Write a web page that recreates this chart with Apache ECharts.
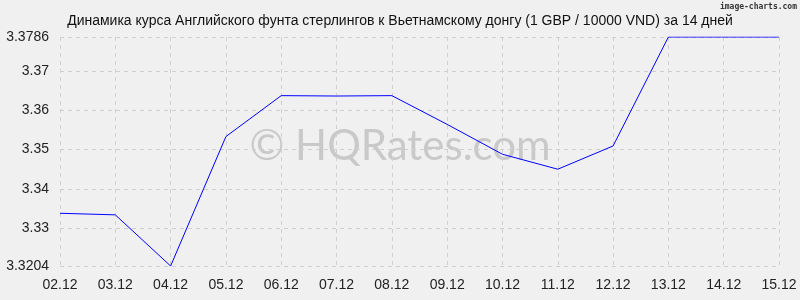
<!DOCTYPE html>
<html><head><meta charset="utf-8">
<script src="https://cdn.jsdelivr.net/npm/echarts@6/dist/echarts.min.js"></script>
<style>html,body{margin:0;padding:0;background:#f0f0f0}#c{width:800px;height:300px}</style>
</head><body><div id="c"></div>
<script>
const titleText = 'Динамика курса Английского фунта стерлингов к Вьетнамскому донгу (1 GBP / 10000 VND) за 14 дней';
const categories = ['02.12','03.12','04.12','05.12','06.12','07.12','08.12','09.12','10.12','11.12','12.12','13.12','14.12','15.12'];
const rates = [3.3338,3.3334,3.3204,3.3533,3.3637,3.3636,3.3637,3.3564,3.3488,3.3450,3.3509,3.3786,3.3786,3.3786];
const yMin = 3.3204, yMax = 3.3786;

const chart = echarts.init(document.getElementById('c'), null, {renderer:'canvas'});
const gridLine = {show:true, lineStyle:{color:'#cfcfcf', type:[4,4], width:1}};
chart.setOption({
  backgroundColor:'#f0f0f0',
  animation:false,
  title:{text:titleText, left:'center', top:9, textStyle:{fontFamily:'Liberation Sans', fontSize:14, fontWeight:'normal', color:'#111'}},
  graphic:[
    {type:'text', right:3, top:3, style:{text:'image-charts.com', fontFamily:'DejaVu Sans Mono', fontSize:8, fontWeight:'bold', fill:'#333'}},
    {type:'text', left:'center', top:125, z:0, style:{text:'© HQRates.com', fontFamily:'Lato', fontSize:42, fill:'#c9c9c9'}}
  ],
  grid:{left:60, right:21, top:37, bottom:34},
  xAxis:{type:'category', data:categories, boundaryGap:false,
    axisLine:{show:false}, axisTick:{show:false},
    splitLine:gridLine,
    axisLabel:{fontFamily:'Liberation Sans', fontSize:14, color:'#222', margin:12, interval:0}},
  yAxis:{type:'value', min:yMin, max:yMax, minInterval:0.01, maxInterval:0.01,
    axisLine:{show:false}, axisTick:{show:false},
    splitLine:gridLine,
    axisLabel:{fontFamily:'Liberation Sans', fontSize:14, color:'#222', margin:11, showMinLabel:true, showMaxLabel:true,
      formatter:v=>String(parseFloat(v.toFixed(4)))}},
  series:[{type:'line', data:rates, symbol:'none', z:3, lineStyle:{color:'#0000ff', width:1}}]
});
</script></body></html>
